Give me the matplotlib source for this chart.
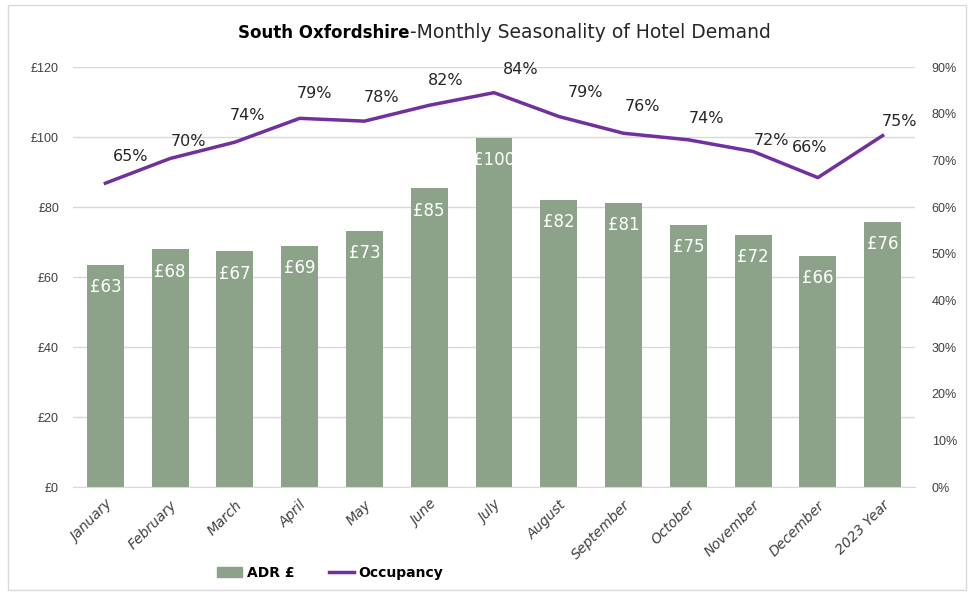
import matplotlib
matplotlib.use("Agg")
import matplotlib.pyplot as plt
from matplotlib.patches import Rectangle
from matplotlib.lines import Line2D
from matplotlib.patches import Patch

categories = ["January", "February", "March", "April", "May", "June", "July",
              "August", "September", "October", "November", "December", "2023 Year"]
adr = [63.4, 67.9, 67.3, 68.8, 73.2, 85.3, 99.8, 82.1, 81.2, 75.0, 72.0, 66.0, 75.8]
occupancy = [65.1, 70.4, 73.9, 79.0, 78.4, 81.8, 84.5, 79.4, 75.8, 74.4, 71.9, 66.3, 75.3]
adr_labels = ["£63", "£68", "£67", "£69", "£73", "£85", "£100", "£82", "£81", "£75", "£72", "£66", "£76"]
occ_labels = ["65%", "70%", "74%", "79%", "78%", "82%", "84%", "79%", "76%", "74%", "72%", "66%", "75%"]
left_ticks = [0, 20, 40, 60, 80, 100, 120]
left_ticklabels = ["£0", "£20", "£40", "£60", "£80", "£100", "£120"]
right_ticks = [0, 10, 20, 30, 40, 50, 60, 70, 80, 90]
right_ticklabels = ["0%", "10%", "20%", "30%", "40%", "50%", "60%", "70%", "80%", "90%"]

# label offsets (points) for occupancy labels, styling only
occ_dx = [18, 13, 9, 11, 12, 12, 19, 19, 14, 13, 13, -6, 12]
occ_dy = [19, 12, 19, 18, 17, 18, 17, 17, 19, 15, 8, 22, 10]

BAR = "#8CA38A"
LINE = "#7030A0"
TXT = "#404040"

fig = plt.figure(figsize=(9.7, 5.95), dpi=100)
fig.patches.append(Rectangle((8/970, 5/595), 958/970, 585/595, transform=fig.transFigure,
                             fill=False, edgecolor="#D9D9D9", linewidth=1))

ax = fig.add_axes([73/970, 1-487/595, (915-73)/970, (487-67)/595])
x = list(range(len(categories)))
bars = ax.bar(x, adr, width=0.57, color=BAR, zorder=2)
ax.set_xlim(-0.5, len(categories)-0.5)
ax.set_ylim(0, 120)
ax.set_yticks(left_ticks)
ax.set_yticklabels(left_ticklabels, fontsize=9, color=TXT, family="Liberation Sans")
ax.tick_params(axis="y", length=0, pad=10)
ax.grid(axis="y", color="#D9D9D9", linewidth=1, zorder=0)
for s in ["top", "right", "left"]:
    ax.spines[s].set_visible(False)
ax.spines["bottom"].set_color("#D9D9D9")
ax.set_xticks(x)
ax.set_xticklabels(categories, rotation=45, ha="right", rotation_mode="anchor",
                   fontsize=10, color=TXT, style="italic", family="DejaVu Sans")
ax.tick_params(axis="x", length=0, pad=8)

for xi, v, lab in zip(x, adr, adr_labels):
    ax.annotate(lab, (xi, v), xytext=(0, -16), textcoords="offset points",
                ha="center", va="center", color="white", fontsize=12, family="DejaVu Sans")

ax2 = ax.twinx()
ax2.set_ylim(0, 90)
ax2.plot(x, occupancy, color=LINE, linewidth=2.5, zorder=3)
ax2.set_yticks(right_ticks)
ax2.set_yticklabels(right_ticklabels, fontsize=9, color=TXT, family="Liberation Sans")
ax2.tick_params(axis="y", length=0, pad=12)
for s in ["top", "right", "left", "bottom"]:
    ax2.spines[s].set_visible(False)
for xi, v, lab, dx, dy in zip(x, occupancy, occ_labels, occ_dx, occ_dy):
    ax2.annotate(lab, (xi, v), xytext=(dx, dy), textcoords="offset points",
                 ha="center", va="center", color="#262626", fontsize=11.5, family="DejaVu Sans")

# title
fig.text(410/970, 1-33/595, "South Oxfordshire", ha="right", va="center",
         fontsize=12, fontweight="bold", color="black", family="DejaVu Sans")
fig.text(410/970, 1-33/595, "-Monthly Seasonality of Hotel Demand", ha="left", va="center",
         fontsize=13.5, color="#262626", family="DejaVu Sans")

handles = [Patch(facecolor=BAR, edgecolor=BAR), Line2D([0], [0], color=LINE, linewidth=2.5)]
fig.legend(handles, ["ADR £", "Occupancy"], loc="center", bbox_to_anchor=(330/970, 1-573/595),
           ncol=2, frameon=False, prop={"size": 10, "weight": "bold", "family": "DejaVu Sans"},
           handlelength=1.8, columnspacing=2.5, handletextpad=0.3)

fig.savefig("out.png", dpi=100)
